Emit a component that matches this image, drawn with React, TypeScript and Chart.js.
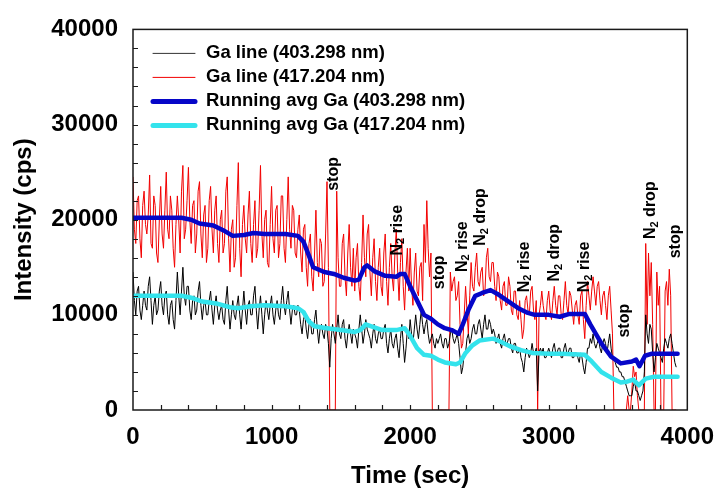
import { useEffect, useRef } from 'react';
import { Chart, registerables } from 'chart.js';

Chart.register(...registerables);

// ---------------- data ----------------
const SAMPLE_STEP_SEC = 10; // raw spectra sampled every 10 s, starting at t = 0

// Ga line (403.298 nm) raw intensity (black); one row = 200 s
const GA_403_RAW = [
  14500, 11500, 10000, 12500, 13000, 10500, 9500, 11000, 12500, 11000, 10500, 13000, 14000, 11500, 9000, 11000, 12000, 10000, 10500, 12500,
  13500, 11000, 10000, 12000, 12500, 10000, 9000, 11000, 11500, 9500, 8500, 11500, 14500, 12000, 10000, 12500, 15000, 12000, 11000, 13000,
  13000, 10500, 9500, 11500, 12000, 10000, 10500, 12500, 13500, 11000, 9500, 11000, 11500, 10000, 10000, 11500, 12500, 10500, 9000, 11000,
  12000, 10500, 9500, 10500, 11000, 9500, 9000, 11500, 13000, 10500, 8500, 10000, 11500, 10000, 9500, 11000, 12000, 10000, 8500, 10500,
  12500, 10500, 9000, 11000, 11500, 10000, 10000, 12000, 13000, 10500, 8500, 10500, 12000, 10000, 8000, 10000, 11500, 10500, 9500, 11000,
  12000, 10000, 9000, 10500, 11500, 10000, 9500, 11500, 13000, 11000, 10000, 11500, 12500, 10500, 9000, 10500, 11000, 10000, 10000, 11000,
  10500, 9000, 8000, 9500, 10000, 8500, 7500, 9000, 9500, 8000, 8000, 9500, 10500, 8500, 7000, 8500, 9000, 8000, 7500, 9000,
  8500, 7000, 4500, 7500, 9000, 8000, 7000, 8500, 10000, 8000, 7500, 9000, 9500, 7500, 6500, 8000, 9000, 8000, 7000, 8500,
  8000, 7500, 6500, 8500, 10000, 8500, 7000, 8000, 9500, 8500, 8000, 7500, 6500, 8000, 9000, 7500, 7000, 8000, 8500, 7500,
  7500, 8500, 9000, 7000, 6000, 7500, 8500, 7000, 6500, 7500, 8000, 6500, 5500, 7500, 9000, 7000, 5000, 6500, 8500, 7500,
  9500, 8000, 7000, 8500, 10000, 8500, 7500, 9000, 10500, 9000, 8000, 9000, 9500, 8000, 7000, 7500, 8000, 7000, 6500, 7500,
  7000, 7500, 8000, 7000, 6500, 7500, 7500, 6500, 7000, 8000, 8500, 7500, 7000, 7500, 8000, 7000, 5500, 3800, 4500, 6000,
  6000, 7500, 8000, 7000, 7500, 8500, 9000, 8000, 8000, 9000, 9500, 8500, 7500, 9000, 10000, 8500, 8500, 9500, 9000, 8000,
  8500, 8000, 7000, 7500, 8000, 7000, 6500, 7500, 8000, 7000, 7000, 7500, 7500, 6500, 6000, 7000, 7000, 6000, 6000, 6500,
  5500, 5000, 4000, 5500, 6500, 6000, 5500, 6000, 7000, 6000, 6000, 6500, 2000, 6000, 6500, 6000, 6500, 5500, 5500, 6000,
  6500, 6000, 5500, 6500, 7000, 6000, 6000, 6500, 6500, 5500, 5500, 6500, 7000, 6000, 6000, 6500, 6500, 5500, 5500, 6000,
  6000, 5500, 5000, 6000, 5500, 4500, 3800, 5000, 6500, 6500, 7500, 7000, 8000, 7000, 6500, 7000, 7500, 6500, 6000, 7000,
  7500, 7000, 6000, 7000, 8000, 6500, 5500, 5500, 5000, 4500, 4500, 4000, 4000, 3500, 3500, 3000, 2500, 2000, 1500, 1500,
  1500, 2500, 3000, 2000, 2000, 1500, 1000, 1500, 2000, 4000, 10000, 8000, 7000, 9000, 8500, 6000, 4000, 5500, 7000, 6500,
  6000, 5500, 5000, 6500, 7500, 7000, 6500, 7500, 8000, 7000, 6000, 5000, 4500,
];

// Ga line (417.204 nm) raw intensity (red); one row = 200 s
const GA_417_RAW = [
  24500, 19000, 17500, 22000, 22500, 18000, 16000, 21500, 23000, 19500, 18500, 20500, 24700, 17500, 17000, 22500, 21500, 16500, 15500, 20000,
  23500, 18500, 17000, 21000, 25000, 19000, 18000, 22500, 21000, 17000, 15000, 19500, 22500, 20000, 16500, 23000, 25700, 18000, 19000, 22000,
  25500, 20000, 17500, 21500, 22000, 16500, 18500, 23000, 24000, 18500, 16000, 20500, 21500, 15500, 17000, 22000, 23500, 19000, 16500, 21000,
  22500, 17500, 15500, 20000, 21000, 16500, 17500, 23000, 24500, 18000, 14500, 19000, 20000, 15000, 16000, 21500, 26000, 17000, 14000, 19500,
  21500, 18000, 16500, 20500, 23000, 17500, 15500, 19500, 22000, 16000, 17000, 21000, 25700, 18500, 16000, 20000, 21000, 15500, 15000, 19500,
  23500, 18000, 16500, 21000, 21500, 16000, 17500, 22500, 22500, 17000, 15500, 20000, 24500, 19000, 17000, 21500, 21000, 16500, 16000, 19000,
  20500, 16500, 14500, 19000, 19500, 15000, 13000, 17500, 18500, 14000, 12500, 16500, 21000, 15500, 14000, 18000, 17500, 13000, 13500, 18500,
  24000, 15000, 0, 0, 0, 0, 0, 23000, 16000, 13000, 13000, 17500, 18500, 14000, 12000, 16500, 19500, 15000, 13000, 17000,
  12500, 16000, 17500, 13000, 11500, 15500, 20500, 16000, 14000, 18500, 19500, 14500, 12000, 16000, 18000, 13500, 11500, 15000, 17000, 13000,
  12000, 16500, 18500, 13500, 11000, 15000, 17500, 14000, 12500, 16500, 19000, 14500, 11500, 15500, 18000, 13000, 10500, 14500, 17000, 12500,
  17000, 13000, 11000, 14500, 16500, 12500, 12000, 15000, 15500, 11500, 19500, 15500, 22000, 17000, 14000, 16500, 0, 0, 0, 0,
  0, 0, 0, 0, 0, 0, 0, 0, 0, 14500, 12500, 13500, 14000, 11500, 12000, 13500, 9000, 6500, 7000, 10000,
  13000, 10500, 8000, 12000, 15500, 13000, 12500, 15000, 16500, 13500, 13000, 14500, 15000, 12000, 12500, 16000, 17000, 14000, 13500, 15500,
  15500, 13000, 11500, 14500, 14000, 11500, 10500, 13000, 13500, 11000, 11000, 14000, 13000, 10500, 10000, 12500, 12500, 10000, 9500, 11500,
  9500, 7500, 8500, 11500, 12000, 10500, 10000, 12500, 13000, 10500, 9500, 11500, 0, 10000, 11000, 12500, 11000, 10000, 9500, 11500,
  12500, 10500, 9500, 11500, 13000, 11000, 10000, 12000, 12000, 10000, 9500, 11500, 13500, 11000, 10000, 12500, 12000, 10500, 9000, 11000,
  11500, 10000, 9000, 12000, 12500, 9500, 7500, 11000, 13500, 12000, 10500, 12500, 14000, 12500, 11000, 13000, 13500, 11500, 10000, 12000,
  12500, 11000, 9500, 12000, 13000, 10500, 8000, 0, 0, 0, 0, 0, 0, 0, 0, 0, 0, 1500, 0, 0,
  2000, 4600, 3500, 4000, 1500, 0, 0, 0, 0, 0, 17500, 9000, 16500, 12000, 15500, 9000, 0, 0, 14500, 11000,
  13000, 0, 0, 0, 12500, 13500, 11000, 14800, 12000, 0, 0, 0, 0,
];

// Running average Ga (403.298 nm) (blue)
const AVG_403_TIME = [
  0, 350, 420, 480, 580, 650, 720, 800, 870, 950, 1100, 1190, 1230, 1270, 1300,
  1380, 1450, 1520, 1600, 1630, 1670, 1690, 1740, 1820, 1900, 1930, 1960, 2000,
  2050, 2100, 2150, 2200, 2250, 2300, 2350, 2380, 2420, 2470, 2520, 2580, 2630,
  2700, 2780, 2850, 2900, 3000, 3080, 3150, 3260, 3300, 3380, 3450, 3520, 3600,
  3630, 3655, 3695, 3740, 3930,
];
const AVG_403_VALUE = [
  20200, 20200, 20000, 19600, 19400, 18900, 18300, 18400, 18600, 18500, 18500, 18300, 17700, 16200, 15000,
  14500, 14300, 13900, 13600, 13700, 15000, 15200, 14600, 14100, 14000, 14300, 14300, 13000,
  11500, 10000, 9600, 9000, 8600, 8400, 8000, 9000, 10500, 12000, 12300, 12600, 12200,
  11500, 10700, 10200, 10000, 10000, 9800, 10100, 10100, 9000, 7000, 5600, 4900, 5100,
  5300, 4600, 5700, 5900, 5900,
];

// Running average Ga (417.204 nm) (cyan)
const AVG_417_TIME = [
  0, 350, 420, 500, 600, 700, 760, 850, 950, 1100, 1190, 1230, 1270, 1310, 1400,
  1500, 1600, 1640, 1680, 1720, 1800, 1900, 1960, 2000, 2050, 2100, 2150, 2200,
  2250, 2330, 2360, 2400, 2450, 2500, 2600, 2650, 2720, 2800, 2880, 3000, 3100,
  3260, 3310, 3380, 3450, 3520, 3570, 3610, 3650, 3700, 3760, 3930,
];
const AVG_417_VALUE = [
  12000, 12000, 11800, 11400, 11200, 10800, 10700, 10900, 11000, 10900, 10700, 10300, 9300, 8800, 8600,
  8400, 8200, 8400, 9000, 8800, 8400, 8400, 8600, 7800, 6500, 5800, 5700, 5300,
  5000, 4800, 5000, 6000, 6800, 7300, 7500, 7200, 6700, 6300, 6000, 5900, 5900,
  5800, 5100, 4000, 3400, 2900, 3000, 3200, 2600, 3300, 3500, 3500,
];

const SERIES_LABELS = [
  'Ga line (403.298 nm)',
  'Ga line (417.204 nm)',
  'Running avg Ga (403.298 nm)',
  'Running avg Ga (417.204 nm)',
];

// event annotations (time in s, intensity level where the rotated text starts)
const EVENT_TIME = [1447, 1908, 2213, 2376, 2511, 2823, 3043, 3262, 3546, 3738, 3915];
const EVENT_LEVEL = [23040, 16240, 12690, 14510, 17260, 12380, 13500, 12380, 7610, 17970, 15940];
const EVENT_LABEL = ['stop', 'N₂ rise', 'stop', 'N₂ rise', 'N₂ drop', 'N₂ rise', 'N₂ drop', 'N₂ rise', 'stop', 'N₂ drop', 'stop'];

const X_MIN = 0, X_MAX = 4000, X_MAJOR = 1000, X_MINOR = 200;
const Y_MIN = 0, Y_MAX = 40000, Y_MAJOR = 10000, Y_MINOR = 2000;

// ---------------- styles ----------------
const FONT_FAMILY = '"Liberation Sans", Arial, sans-serif';
const BLACK = '#000000';
const RED = '#f20000';
const BLUE = '#0606c8';
const CYAN = '#33e3ec';

const LEGEND_STYLE = [
  { color: '#333333', width: 1 },
  { color: RED, width: 1 },
  { color: BLUE, width: 5 },
  { color: CYAN, width: 5 },
];

const framePlugin = {
  id: 'frameTicks',
  afterDatasetsDraw(chart: any) {
    const { ctx, chartArea: a, scales } = chart;
    const xs = scales.x, ys = scales.y;
    const TICK = 5;
    ctx.save();
    ctx.strokeStyle = '#1a1a1a';
    ctx.lineWidth = 1.5;
    ctx.strokeRect(a.left, a.top, a.right - a.left, a.bottom - a.top);
    ctx.lineWidth = 1.2;
    ctx.beginPath();
    for (let v = X_MIN + X_MINOR; v < X_MAX; v += X_MINOR) {
      const px = Math.round(xs.getPixelForValue(v)) + 0.5;
      ctx.moveTo(px, a.bottom);
      ctx.lineTo(px, a.bottom - TICK);
    }
    for (let v = Y_MIN + Y_MINOR; v < Y_MAX; v += Y_MINOR) {
      const py = Math.round(ys.getPixelForValue(v)) + 0.5;
      ctx.moveTo(a.left, py);
      ctx.lineTo(a.left + TICK, py);
    }
    ctx.stroke();
    ctx.restore();
  },
};

const eventPlugin = {
  id: 'eventLabels',
  afterDatasetsDraw(chart: any) {
    const { ctx, scales } = chart;
    const xs = scales.x, ys = scales.y;
    const mainFont = `bold 16px ${FONT_FAMILY}`;
    const subFont = `bold 11px ${FONT_FAMILY}`;
    EVENT_LABEL.forEach((label, i) => {
      const px = xs.getPixelForValue(EVENT_TIME[i]);
      const py = ys.getPixelForValue(EVENT_LEVEL[i]);
      ctx.save();
      ctx.translate(px, py);
      ctx.rotate(-Math.PI / 2);
      ctx.textAlign = 'left';
      ctx.textBaseline = 'middle';
      ctx.fillStyle = BLACK;
      const parts = label.split('₂');
      let cx = 0;
      parts.forEach((part, j) => {
        if (j > 0) {
          ctx.font = subFont;
          ctx.fillText('2', cx, 4);
          cx += ctx.measureText('2').width;
        }
        ctx.font = mainFont;
        ctx.fillText(part, cx, 0);
        cx += ctx.measureText(part).width;
      });
      ctx.restore();
    });
  },
};

const legendPlugin = {
  id: 'insideLegend',
  afterDraw(chart: any) {
    const { ctx, chartArea: a } = chart;
    ctx.save();
    ctx.font = `bold 18.5px ${FONT_FAMILY}`;
    ctx.textAlign = 'left';
    ctx.textBaseline = 'middle';
    SERIES_LABELS.forEach((label, i) => {
      const y = a.top + 24 + i * 24;
      const st = LEGEND_STYLE[i];
      ctx.strokeStyle = st.color;
      ctx.lineWidth = st.width;
      ctx.lineCap = 'round';
      ctx.beginPath();
      ctx.moveTo(a.left + 20, y);
      ctx.lineTo(a.left + 62, y);
      ctx.stroke();
      ctx.fillStyle = BLACK;
      ctx.fillText(label, a.left + 73, y);
    });
    ctx.restore();
  },
};

export default function App() {
  const canvasRef = useRef<HTMLCanvasElement | null>(null);

  useEffect(() => {
    document.body.style.margin = '0';
    const canvas = canvasRef.current;
    if (!canvas) return;

    const raw = (arr: number[]) => arr.map((v, i) => ({ x: i * SAMPLE_STEP_SEC, y: v }));
    const pairs = (ts: number[], vs: number[]) => ts.map((t, i) => ({ x: t, y: vs[i] }));

    const tickFont = { family: FONT_FAMILY, size: 24, weight: 'bold' as const };

    const chart = new Chart(canvas, {
      type: 'line',
      data: {
        datasets: [
          {
            label: SERIES_LABELS[3],
            data: pairs(AVG_417_TIME, AVG_417_VALUE),
            borderColor: CYAN,
            borderWidth: 4.5,
            pointRadius: 0,
            tension: 0,
            borderJoinStyle: 'round',
            borderCapStyle: 'round',
          },
          {
            label: SERIES_LABELS[2],
            data: pairs(AVG_403_TIME, AVG_403_VALUE),
            borderColor: BLUE,
            borderWidth: 4.5,
            pointRadius: 0,
            tension: 0,
            borderJoinStyle: 'round',
            borderCapStyle: 'round',
          },
          {
            label: SERIES_LABELS[0],
            data: raw(GA_403_RAW),
            borderColor: BLACK,
            borderWidth: 1,
            pointRadius: 0,
            tension: 0,
          },
          {
            label: SERIES_LABELS[1],
            data: raw(GA_417_RAW),
            borderColor: RED,
            borderWidth: 1,
            pointRadius: 0,
            tension: 0,
          },
        ],
      },
      options: {
        responsive: false,
        animation: false,
        devicePixelRatio: 1,
        layout: { padding: { top: 16, right: 30, left: 0, bottom: 0 } },
        plugins: { legend: { display: false }, tooltip: { enabled: false } },
        scales: {
          x: {
            type: 'linear',
            min: X_MIN,
            max: X_MAX,
            afterFit: (s: any) => { s.height = 89; },
            grid: { display: false, drawTicks: false },
            border: { display: false },
            ticks: {
              stepSize: X_MAJOR,
              padding: 13,
              color: BLACK,
              font: tickFont,
              maxRotation: 0,
              autoSkip: false,
              callback: (v: any) => String(v),
            },
            title: {
              display: true,
              text: 'Time (sec)',
              color: BLACK,
              font: tickFont,
              padding: { top: 0, bottom: 8 },
            },
          },
          y: {
            type: 'linear',
            min: Y_MIN,
            max: Y_MAX,
            afterFit: (s: any) => { s.width = 133; },
            grid: { display: false, drawTicks: false },
            border: { display: false },
            ticks: {
              stepSize: Y_MAJOR,
              padding: 15,
              color: BLACK,
              font: tickFont,
              callback: (v: any) => String(v),
            },
            title: {
              display: true,
              text: 'Intensity (cps)',
              color: BLACK,
              font: tickFont,
              padding: { top: 10, bottom: 0 },
            },
          },
        },
      },
      plugins: [framePlugin, eventPlugin, legendPlugin],
    });

    return () => chart.destroy();
  }, []);

  return (
    <div style={{ width: 727, height: 499, background: '#ffffff' }}>
      <canvas ref={canvasRef} width={727} height={499} style={{ display: 'block' }} />
    </div>
  );
}
